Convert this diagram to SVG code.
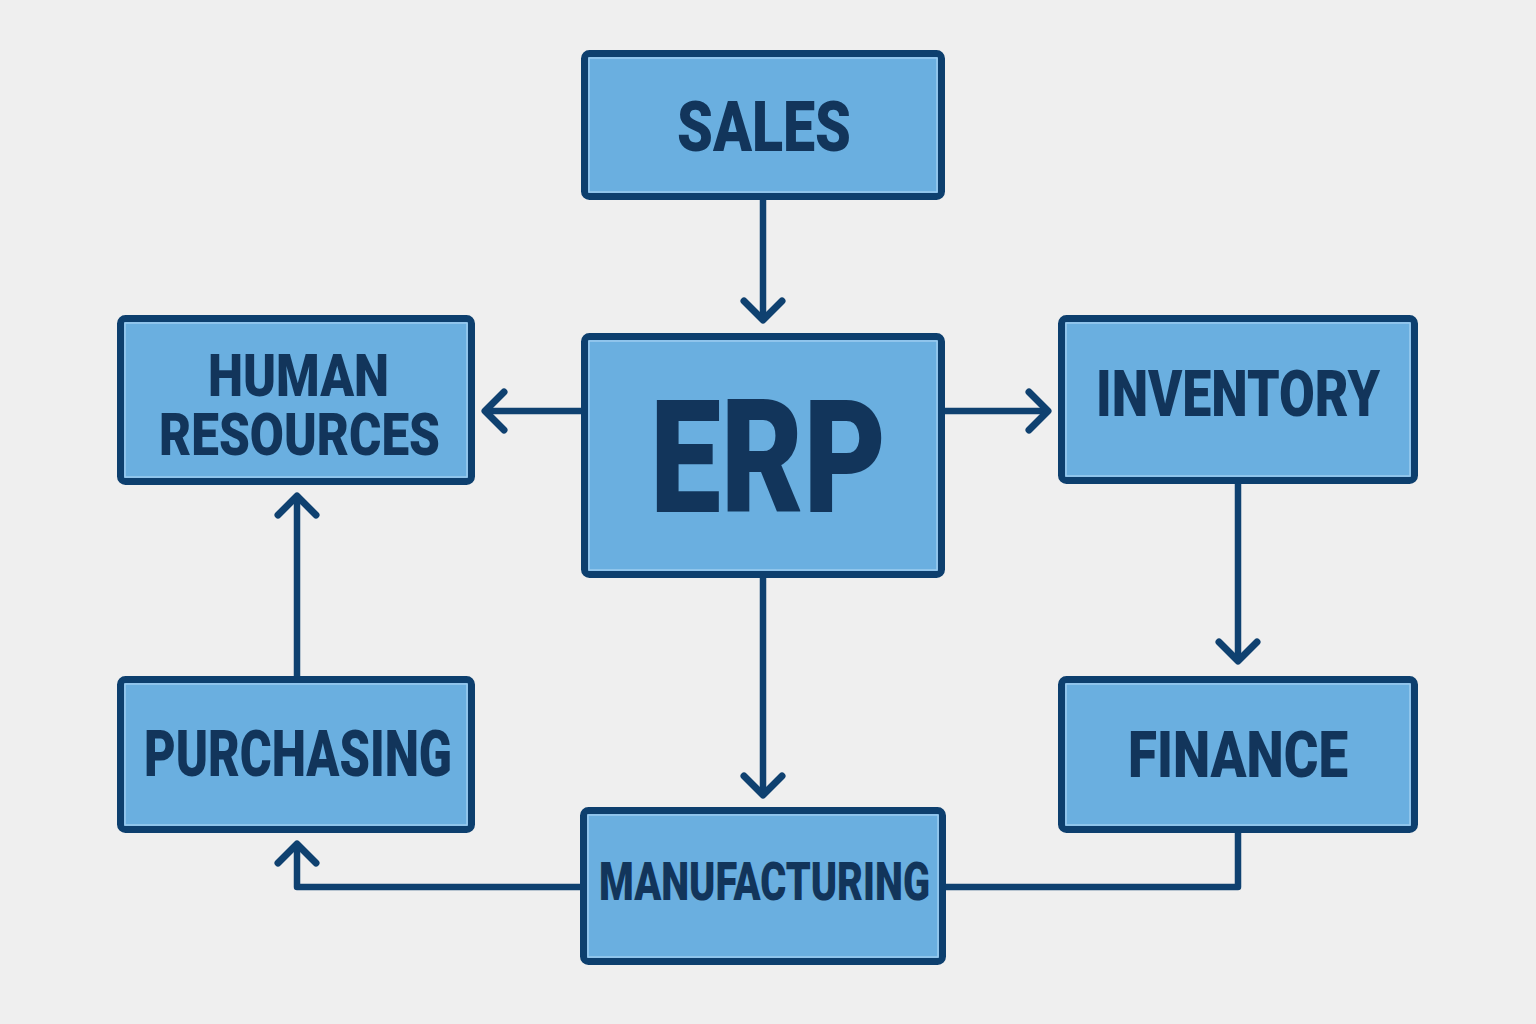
<svg xmlns="http://www.w3.org/2000/svg" width="1536" height="1024" viewBox="0 0 1536 1024">
<defs>
<style>
.box{fill:#6aafe0;stroke:#0d3f6e;stroke-width:7}
.inner{fill:none;stroke:#9cccef;stroke-width:1.5}
.lbl{font-family:Roboto,"Liberation Sans",sans-serif;font-weight:900;fill:#12355b;text-anchor:middle}
.conn{fill:none;stroke:#0f4170;stroke-width:6.5;stroke-linejoin:round}
</style>
<marker id="arr" viewBox="-25 -25 30 50" markerUnits="userSpaceOnUse" markerWidth="30" markerHeight="50" refX="0" refY="0" orient="auto">
<path d="M-19,-19 L0,0 L-19,19" fill="none" stroke="#0f4170" stroke-width="7" stroke-linecap="round" stroke-linejoin="round"/>
</marker>
</defs>
<rect width="1536" height="1024" fill="#efefef"/>
<g id="connectors">
<path class="conn" d="M763,200 V320" marker-end="url(#arr)"/>
<path class="conn" d="M582,411 H485" marker-end="url(#arr)"/>
<path class="conn" d="M945,411 H1048" marker-end="url(#arr)"/>
<path class="conn" d="M763,577 V795" marker-end="url(#arr)"/>
<path class="conn" d="M1238,483 V661" marker-end="url(#arr)"/>
<path class="conn" d="M297,677 V496" marker-end="url(#arr)"/>
<path class="conn" d="M1238,832 V887 H945"/>
<path class="conn" d="M581,887 H297 V844" marker-end="url(#arr)"/>
</g>
<g id="sales">
<rect class="box" x="584.5" y="53.5" width="357" height="143" rx="5"/>
<rect class="inner" x="589" y="58" width="348" height="134"/>
<text class="lbl" x="764" y="151" font-size="70" textLength="174" lengthAdjust="spacingAndGlyphs">SALES</text>
</g>
<g id="erp">
<rect class="box" x="584.5" y="336.5" width="357" height="238" rx="5"/>
<rect class="inner" x="589" y="341" width="348" height="229"/>
<text class="lbl" x="768" y="512" font-size="158" textLength="236" lengthAdjust="spacingAndGlyphs">ERP</text>
</g>
<g id="human-resources">
<rect class="box" x="120.5" y="318.5" width="351" height="163" rx="5"/>
<rect class="inner" x="125" y="323" width="342" height="154"/>
<text class="lbl" x="298.5" y="396" font-size="60" textLength="181" lengthAdjust="spacingAndGlyphs">HUMAN</text>
<text class="lbl" x="299.5" y="455" font-size="60" textLength="281" lengthAdjust="spacingAndGlyphs">RESOURCES</text>
</g>
<g id="inventory">
<rect class="box" x="1061.5" y="318.5" width="353" height="162" rx="5"/>
<rect class="inner" x="1066" y="323" width="344" height="153"/>
<text class="lbl" x="1238" y="416" font-size="65" textLength="284" lengthAdjust="spacingAndGlyphs">INVENTORY</text>
</g>
<g id="purchasing">
<rect class="box" x="120.5" y="679.5" width="351" height="150" rx="5"/>
<rect class="inner" x="125" y="684" width="342" height="141"/>
<text class="lbl" x="298" y="776" font-size="64" textLength="308" lengthAdjust="spacingAndGlyphs">PURCHASING</text>
</g>
<g id="finance">
<rect class="box" x="1061.5" y="679.5" width="353" height="150" rx="5"/>
<rect class="inner" x="1066" y="684" width="344" height="141"/>
<text class="lbl" x="1238" y="777" font-size="65" textLength="220" lengthAdjust="spacingAndGlyphs">FINANCE</text>
</g>
<g id="manufacturing">
<rect class="box" x="583.5" y="810.5" width="359" height="151" rx="5"/>
<rect class="inner" x="588" y="815" width="350" height="142"/>
<text class="lbl" x="764.5" y="900" font-size="54" textLength="331" lengthAdjust="spacingAndGlyphs">MANUFACTURING</text>
</g>
</svg>
